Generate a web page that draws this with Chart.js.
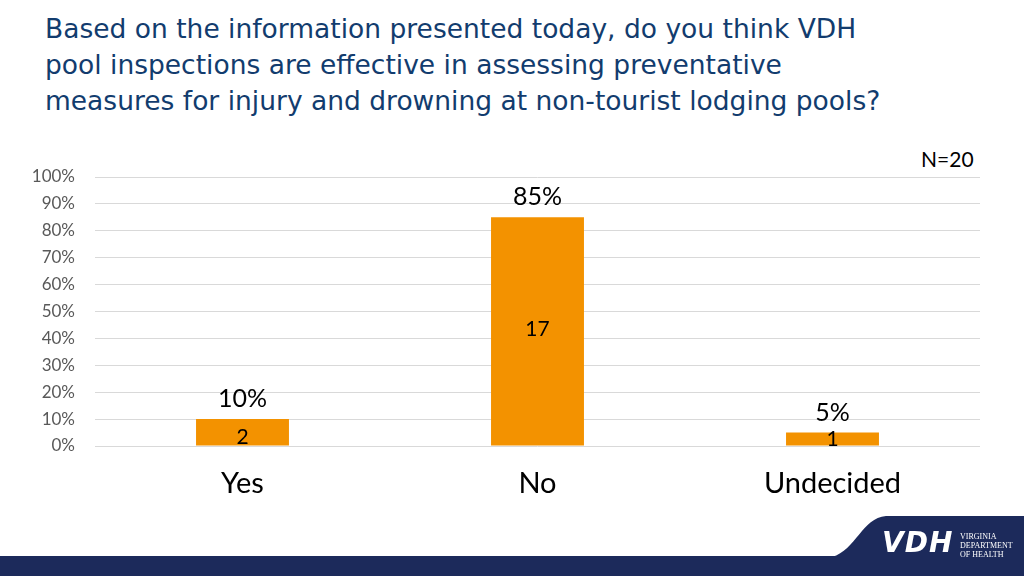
<!DOCTYPE html>
<html>
<head>
<meta charset="utf-8">
<script src="https://cdn.jsdelivr.net/npm/chart.js@4/dist/chart.umd.min.js"></script>
<style>
  html, body { margin:0; padding:0; background:#fff; }
  #wrap { position:relative; width:1024px; height:576px; overflow:hidden; background:#fff; }
  #title { position:absolute; left:45px; top:11px; font-family:"DejaVu Sans", sans-serif; font-size:26.5px; line-height:36px; color:#123c6e; white-space:nowrap; }
  #n { position:absolute; left:921px; top:146px; font-family:"Lato", sans-serif; font-size:21px; color:#000; }
  #c { position:absolute; left:0; top:0; }
  #footer { position:absolute; left:0; top:0; }
  .logo { position:absolute; color:#fff; }
</style>
</head>
<body>
<div id="wrap">
  <div id="title">Based on the information presented today, do you think VDH<br>pool inspections are effective in assessing preventative<br>measures for injury and drowning at non-tourist lodging pools?</div>
  <div id="n">N=20</div>
  <canvas id="c" width="1024" height="576"></canvas>
  <svg id="footer" width="1024" height="576">
    <rect x="0" y="556" width="1024" height="20" fill="#1c2a5b"/>
    <path d="M832 557 C 856 550, 862 518, 886 516 L 1024 516 L 1024 557 Z" fill="#1c2a5b"/>
  </svg>
  <div class="logo" style="left:882px; top:526px; font-family:'DejaVu Sans', sans-serif; font-weight:bold; font-style:italic; font-size:28px; letter-spacing:1px;">VDH</div>
  <div class="logo" style="left:960px; top:532px; font-family:'Liberation Serif', serif; font-size:8px; line-height:9px;">VIRGINIA<br>DEPARTMENT<br>OF HEALTH</div>
</div>
<script>
const categories = ["Yes", "No", "Undecided"];
const percentValues = [10, 85, 5];
const countValues = [2, 17, 1];
const yTickValues = [0, 10, 20, 30, 40, 50, 60, 70, 80, 90, 100];

const labelPlugin = {
  id: 'barLabels',
  afterDatasetsDraw(chart) {
    const ctx = chart.ctx;
    const meta = chart.getDatasetMeta(0);
    ctx.save();
    ctx.textAlign = 'center';
    ctx.textBaseline = 'middle';
    meta.data.forEach((bar, i) => {
      const props = bar.getProps(['x', 'y', 'base'], true);
      ctx.fillStyle = '#000';
      ctx.font = '25px Lato, sans-serif';
      ctx.fillText(percentValues[i] + '%', props.x, props.y - 20);
      ctx.font = '21px Lato, sans-serif';
      const h = props.base - props.y;
      const yPos = h > 40 ? (props.y + props.base) / 2 - 2 : Math.max((props.y + props.base) / 2, props.base - 8);
      ctx.fillText(String(countValues[i]), props.x, yPos);
    });
    ctx.restore();
  }
};

new Chart(document.getElementById('c'), {
  type: 'bar',
  data: {
    labels: categories,
    datasets: [{
      data: percentValues,
      backgroundColor: '#f39200',
      borderWidth: 0,
      categoryPercentage: 1,
      barPercentage: 0.315
    }]
  },
  options: {
    responsive: false,
    animation: false,
    layout: { padding: { left: 0, right: 44, top: 177, bottom: 70 } },
    plugins: { legend: { display: false }, tooltip: { enabled: false }, title: { display: false } },
    scales: {
      x: {
        grid: { display: false, drawTicks: false },
        border: { display: false },
        ticks: { color: '#000', font: { family: 'Lato, sans-serif', size: 29 }, padding: 20 },
        afterFit(scale) { scale.height = 60; }
      },
      y: {
        min: 0, max: 100,
        afterBuildTicks(scale) { scale.ticks = yTickValues.map(v => ({ value: v })); },
        grid: { color: '#d9d9d9', lineWidth: 1, drawTicks: false },
        border: { display: false },
        ticks: { color: '#595959', font: { family: 'Lato, sans-serif', size: 17 }, padding: 20, callback: v => v + '%' },
        afterFit(scale) { scale.width = 95; }
      }
    }
  },
  plugins: [labelPlugin]
});
</script>
</body>
</html>
